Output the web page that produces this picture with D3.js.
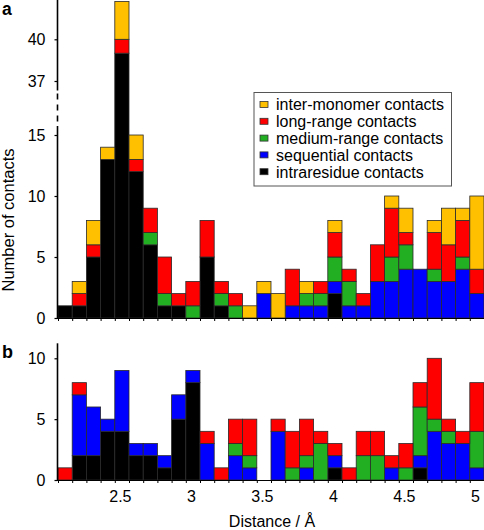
<!DOCTYPE html>
<html>
<head>
<meta charset="utf-8">
<script src="https://cdn.jsdelivr.net/npm/d3@7"></script>
<style>
  html, body { margin: 0; padding: 0; background: #fff; }
  text { font-family: "Liberation Sans", Arial, Helvetica, sans-serif; fill: #000; }
</style>
</head>
<body>
<svg id="chart" width="484" height="530"></svg>
<script>
// ---- data ----
const bins = [2.1,2.2,2.3,2.4,2.5,2.6,2.7,2.8,2.9,3.0,3.1,3.2,3.3,3.4,3.5,3.6,3.7,3.8,3.9,4.0,4.1,4.2,4.3,4.4,4.5,4.6,4.7,4.8,4.9,5.0];
const seriesKeys = ["intra", "seq", "medium", "long", "inter"];
const seriesLabels = ["intraresidue contacts", "sequential contacts", "medium-range contacts", "long-range contacts", "inter-monomer contacts"];
const seriesColors = ["#000000", "#0000FF", "#22B022", "#FF0000", "#FFC000"];

// panel a
const aIntra  = [1,1,5,13,39,12,6,1,1,0,5,1,0,0,0,0,0,0,0,2,0,0,0,0,0,0,0,0,0,0];
const aSeq    = [0,0,0,0,0,0,0,0,0,0,0,0,0,0,2,0,1,1,1,1,1,1,3,3,4,4,3,3,4,2];
const aMedium = [0,0,0,0,0,0,1,1,0,1,0,1,1,0,0,0,0,1,1,2,2,0,0,2,2,0,1,0,1,0];
const aLong   = [0,1,1,0,1,1,2,3,1,2,3,1,1,0,0,0,3,0,1,2,1,1,3,4,1,0,3,3,3,2];
const aInter  = [0,1,2,1,3,2,0,0,0,0,0,0,0,1,1,2,0,1,0,1,0,0,0,1,2,0,1,3,1,6];

// panel b
const bIntra  = [0,2,2,4,4,2,2,1,5,8,0,0,0,0,0,0,0,0,0,1,0,0,0,0,0,1,0,0,0,0];
const bSeq    = [0,5,4,1,5,1,1,1,2,1,3,0,2,1,0,4,0,1,0,1,0,0,0,1,0,1,4,3,3,1];
const bMedium = [0,0,0,0,0,0,0,0,0,0,0,0,1,1,0,0,1,1,3,0,0,2,2,0,1,4,1,1,0,3];
const bLong   = [1,1,0,0,0,0,0,0,0,0,1,1,2,3,0,1,3,3,1,1,1,2,2,1,2,2,5,1,1,4];
const bInter  = [0,0,0,0,0,0,0,0,0,0,0,0,0,0,0,0,0,0,0,0,0,0,0,0,0,0,0,0,0,0];

const aTicks = [0,5,10,15,37,40];
const bTicks = [0,5,10];
const xLabels = [2.5,3,3.5,4,4.5,5];
const binWidth = 0.1;

// ---- build ----
const svg = d3.select("#chart");
const x = d3.scaleLinear().domain([bins[0]-binWidth/2, bins[bins.length-1]+binWidth/2]).range([58, 484]);
const yA = d3.scaleLinear().domain([0,15,37,40,43]).range([318,135,81,39.3,1.5]);
const yB = d3.scaleLinear().domain([0,10]).range([480,358.3]);

function table(arrs) {
  return bins.map((b,i) => {
    const r = {bin: b};
    seriesKeys.forEach((k,j) => r[k] = arrs[j][i]);
    return r;
  });
}
const stack = d3.stack().keys(seriesKeys);

function drawBars(g, data, y) {
  const st = stack(data);
  g.selectAll("g.layer").data(st).join("g")
    .attr("class","layer")
    .attr("fill", (d,i) => seriesColors[i])
    .selectAll("rect").data(d => d.filter(s => s[1] > s[0])).join("rect")
      .attr("x", d => x(d.data.bin - binWidth/2))
      .attr("width", d => x(d.data.bin + binWidth/2) - x(d.data.bin - binWidth/2))
      .attr("y", d => y(d[1]))
      .attr("height", d => y(d[0]) - y(d[1]))
      .attr("stroke", "#2a2a2a")
      .attr("stroke-width", 0.8);
}

const edges = bins.map(b => b - binWidth/2).concat([bins[bins.length-1] + binWidth/2]);

function drawXAxis(g, y, withLabels) {
  g.append("line").attr("x1", x.range()[0]).attr("x2", x.range()[1])
    .attr("y1", y(0)+0.5).attr("y2", y(0)+0.5).attr("stroke","#000").attr("stroke-width",1);
  const ax = d3.axisBottom(x).tickValues(edges).tickSize(3).tickFormat("");
  const ga = g.append("g").attr("transform", `translate(0,${y(0)})`).call(ax);
  ga.select(".domain").remove();
  ga.selectAll(".tick line").attr("stroke","#000").attr("stroke-width",1);
  if (withLabels) {
    g.selectAll("text.xl").data(xLabels).join("text")
      .attr("class","xl")
      .attr("x", d => x(d) - 1.5)
      .attr("y", y(0) + 22)
      .attr("text-anchor","middle")
      .attr("font-size", 16)
      .text(d => d3.format("")(d));
  }
}

function drawYAxis(g, y, ticks) {
  const ax = d3.axisLeft(y).tickValues(ticks).tickSize(3).tickPadding(9).tickFormat(d3.format("d"));
  const ga = g.append("g").attr("transform", `translate(57.5,0)`).call(ax);
  ga.select(".domain").remove();
  ga.selectAll(".tick line").attr("stroke","#000").attr("stroke-width",1.2);
  ga.selectAll(".tick text").attr("font-size", 16).attr("font-family", '"Liberation Sans", Arial, sans-serif').attr("fill","#000");
}

// panel a
const gA = svg.append("g");
drawBars(gA, table([aIntra,aSeq,aMedium,aLong,aInter]), yA);
drawXAxis(gA, yA, false);
drawYAxis(gA, yA, aTicks);
// y axis line with break
const brkTop = yA(37) + 9.5;   // end of upper solid part
const brkBot = yA(15) - 9;     // start of lower solid part
gA.append("line").attr("x1",57.5).attr("x2",57.5).attr("y1",0).attr("y2",brkTop).attr("stroke","#000").attr("stroke-width",1.6);
gA.append("line").attr("x1",57.5).attr("x2",57.5).attr("y1",brkTop+3).attr("y2",brkBot-3)
  .attr("stroke","#000").attr("stroke-width",1.6).attr("stroke-dasharray","6,5");
gA.append("line").attr("x1",57.5).attr("x2",57.5).attr("y1",brkBot).attr("y2",yA(0)+1).attr("stroke","#000").attr("stroke-width",1.6);

// panel b
const gB = svg.append("g");
drawBars(gB, table([bIntra,bSeq,bMedium,bLong,bInter]), yB);
drawXAxis(gB, yB, true);
drawYAxis(gB, yB, bTicks);
gB.append("line").attr("x1",57.5).attr("x2",57.5).attr("y1",yB(10)-15).attr("y2",yB(0)+1).attr("stroke","#000").attr("stroke-width",1.6);

// panel letters
svg.append("text").attr("x",2).attr("y",15).attr("font-size",17.5).attr("font-weight","bold").text("a");
svg.append("text").attr("x",2).attr("y",358).attr("font-size",18).attr("font-weight","bold").text("b");

// axis titles
svg.append("text").attr("transform","translate(14,220) rotate(-90)")
  .attr("text-anchor","middle").attr("font-size",16.5).text("Number of contacts");
svg.append("text").attr("x",272).attr("y",527).attr("text-anchor","middle").attr("font-size",16).text("Distance / Å");

// legend
const lg = svg.append("g");
lg.append("rect").attr("x",254).attr("y",92.5).attr("width",197.5).attr("height",93.5)
  .attr("fill","#fff").attr("stroke","#555").attr("stroke-width",1);
const legOrder = d3.range(seriesKeys.length).reverse();
legOrder.forEach((si, i) => {
  const cy = 104.5 + i*16.8;
  lg.append("rect").attr("x",260).attr("y",cy-3).attr("width",8).attr("height",6)
    .attr("fill",seriesColors[si]).attr("stroke","#333").attr("stroke-width",0.8);
  lg.append("text").attr("x",276).attr("y",cy+5.8).attr("font-size",16).text(seriesLabels[si]);
});
</script>
</body>
</html>
